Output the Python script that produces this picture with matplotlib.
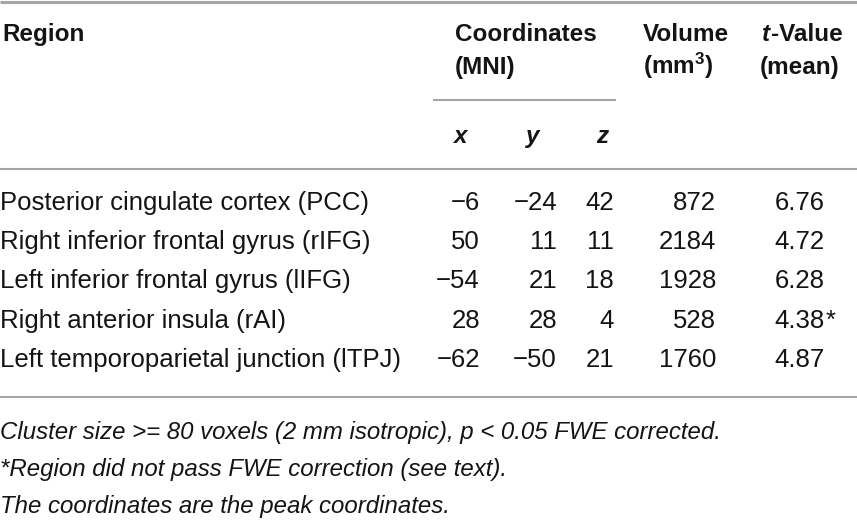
import matplotlib
matplotlib.use("Agg")
import matplotlib.pyplot as plt

# table contents
regions = [
    "Posterior cingulate cortex (PCC)",
    "Right inferior frontal gyrus (rIFG)",
    "Left inferior frontal gyrus (lIFG)",
    "Right anterior insula (rAI)",
    "Left temporoparietal junction (lTPJ)",
]
coord_x = [-6, 50, -54, 28, -62]
coord_y = [-24, 11, 21, 28, -50]
coord_z = [42, 11, 18, 4, 21]
volume = [872, 2184, 1928, 528, 1760]
t_value = [6.76, 4.72, 6.28, 4.38, 4.87]
failed_fwe = [False, False, False, True, False]

footnotes = [
    "Cluster size >= 80 voxels (2 mm isotropic), p < 0.05 FWE corrected.",
    "*Region did not pass FWE correction (see text).",
    "The coordinates are the peak coordinates.",
]

plt.rcParams['font.family'] = ['Liberation Sans', 'DejaVu Sans']
plt.rcParams['mathtext.default'] = 'regular'

W, H = 857, 520
fig = plt.figure(figsize=(W / 100, H / 100), dpi=100)
ax = fig.add_axes([0, 0, 1, 1])
ax.set_xlim(0, W)
ax.set_ylim(H, 0)
ax.axis('off')

INK = '#141414'
RULE = '#a6a6a6'
BODY = 18.5
HEAD = 17.5
FOOT = 17.3


def num(v):
    return str(v).replace('-', '\u2212')


def put(x, y, s, size, ha='left', **kw):
    return ax.text(x, y, s, fontsize=size, ha=ha, va='baseline', color=INK, **kw)


# rules
ax.plot([0, W], [2, 2], color=RULE, lw=2.2, solid_capstyle='butt')
ax.plot([433, 616], [100, 100], color=RULE, lw=1.5, solid_capstyle='butt')
ax.plot([0, W], [169, 169], color=RULE, lw=1.5, solid_capstyle='butt')
ax.plot([0, W], [397, 397], color=RULE, lw=1.5, solid_capstyle='butt')

# header, two lines
L1, L2 = 41, 74
put(2, L1, "Region", HEAD, weight='bold')
put(455, L1, "Coordinates", HEAD, weight='bold')
put(455, L2, "(MNI)", HEAD, weight='bold')
put(643, L1, "Volume", HEAD, weight='bold')
put(643, L2, r"(mm$^{3}$)", HEAD, weight='bold')
t_it = put(762, L1, "t", HEAD, weight='bold', style='italic')
renderer = fig.canvas.get_renderer()
bb = t_it.get_window_extent(renderer)
x_after = ax.transData.inverted().transform((bb.x1, bb.y0))[0]
put(x_after + 0.5, L1, "-Value", HEAD, weight='bold')
put(760, L2, "(mean)", HEAD, weight='bold')

for lab, xc in zip(["x", "y", "z"], [460, 533, 602]):
    put(xc, 143, lab, HEAD, ha='center', weight='bold', style='italic')

# body rows
row0, step = 210, 39.2
for i in range(len(regions)):
    yb = row0 + i * step
    put(0, yb, regions[i], BODY)
    put(480, yb, num(coord_x[i]), BODY, ha='right')
    put(557, yb, num(coord_y[i]), BODY, ha='right')
    put(614, yb, num(coord_z[i]), BODY, ha='right')
    put(716, yb, num(volume[i]), BODY, ha='right')
    put(825, yb, f"{t_value[i]:.2f}", BODY, ha='right')
    if failed_fwe[i]:
        put(826, yb, "*", BODY)

# footnotes
for i, line in enumerate(footnotes):
    put(0, 439 + i * 37, line, FOOT, style='italic')

fig.savefig("out.png", dpi=100, facecolor='white')
